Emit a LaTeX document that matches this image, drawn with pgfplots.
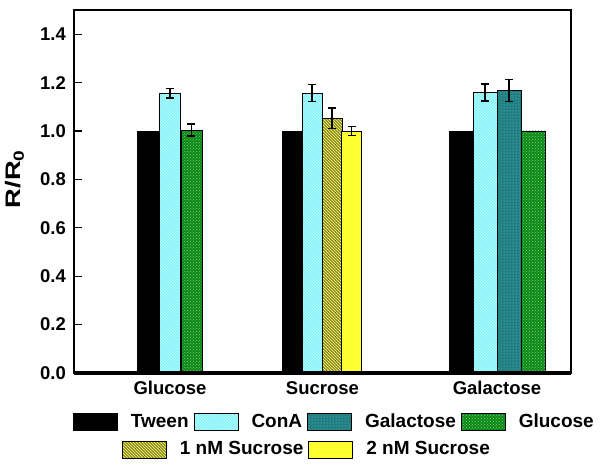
\documentclass[border=0pt]{standalone}
\usepackage{pgfplots}
\pgfplotsset{compat=1.18}
\usepackage{fontspec}
\setmainfont{Liberation Sans}
\newfontfamily\ylfont{Liberation Sans}[FakeStretch=1.3]
\usetikzlibrary{patterns}

\definecolor{conA}{HTML}{80F4FA}
\definecolor{galc}{HTML}{1E7F82}
\definecolor{gluc}{HTML}{0B8A14}
\definecolor{olv}{HTML}{8A8A2C}
\definecolor{yel}{HTML}{FFFF30}

\pgfplotsset{
  tweenst/.style={fill=black, draw=black, line width=0.9pt},
  conast/.style={fill=conA, draw=black, line width=0.9pt, postaction={pattern=north east lines, pattern color=conA!40!white}},
  galst/.style={fill=galc, draw=black, line width=0.9pt, postaction={pattern=dots, pattern color=galc!50!white}},
  glust/.style={fill=gluc, draw=black, line width=0.9pt, postaction={pattern=crosshatch dots, pattern color=gluc!50!white}},
  onest/.style={fill=olv, draw=black, line width=0.9pt, postaction={pattern=north west lines, pattern color=yellow!60!white}},
  twost/.style={fill=yel, draw=black, line width=0.9pt},
  errst/.style={error bars/y dir=both, error bars/y explicit,
     error bars/error mark=-,
     error bars/error bar style={line width=1.3pt, black},
     error bars/error mark options={rotate=90, line width=1.3pt, mark size=4pt, black}},
  myleg/.style={
    legend image code/.code={\draw[##1] (0pt,-9pt) rectangle (44pt,8pt);},
    legend style={draw=none, fill=none, inner sep=0pt, outer sep=0pt,
      font=\fontsize{19}{19}\selectfont\bfseries,
      /tikz/every odd column/.append style={column sep=11pt},
      /tikz/every even column/.append style={column sep=3pt}},
    legend cell align=left,
  },
}

\begin{document}
\begin{tikzpicture}
\useasboundingbox (-74pt,-98pt) rectangle (526pt,373pt);
\begin{axis}[
  width=497pt, height=363pt, scale only axis,
  xmin=0, xmax=497, ymin=0, ymax=1.5,
  axis line style={line width=1.8pt},
  ytick={0,0.2,0.4,0.6,0.8,1.0,1.2,1.4},
  ytick pos=left, tick align=inside, major tick length=8pt,
  ytick style={line width=1.3pt, black},
  xtick={96,248.5,423}, xticklabels={Glucose,Sucrose,Galactose},
  xtick style={draw=none},
  yticklabel style={/pgf/number format/.cd, fixed, fixed zerofill, precision=1, /tikz/.cd,
    font=\fontsize{18.5}{18.5}\selectfont\bfseries, inner sep=8pt},
  xticklabel style={font=\fontsize{18.5}{18.5}\selectfont\bfseries, yshift=-5pt},
  /pgf/number format/assume math mode=true,
  ylabel={R/R\textsubscript{0}},
  ylabel style={font=\ylfont\fontsize{21}{21}\selectfont\bfseries, at={(rel axis cs:-0.119,0.534)}, anchor=center},
  myleg,
  legend columns=4,
  legend style={at={(-0.002,-0.1336)}, anchor=west},
  after end axis/.code={\draw[line width=4pt, line cap=butt] (rel axis cs:0,0) -- (rel axis cs:1,0);},
]
% Glucose group
\addplot[ybar, bar width=21, bar shift=0pt, tweenst, forget plot] coordinates {(74,1.0)};
\addplot[ybar, bar width=21, bar shift=0pt, conast, errst, forget plot] coordinates {(96,1.156) +- (0,0.02)};
\addplot[ybar, bar width=21, bar shift=0pt, glust, errst, forget plot] coordinates {(117.5,1.004) +- (0,0.025)};
% Sucrose group
\addplot[ybar, bar width=20, bar shift=0pt, tweenst, forget plot] coordinates {(218,1.0)};
\addplot[ybar, bar width=20, bar shift=0pt, conast, errst, forget plot] coordinates {(238,1.156) +- (0,0.035)};
\addplot[ybar, bar width=20, bar shift=0pt, onest, errst, forget plot] coordinates {(258,1.052) +- (0,0.043)};
\addplot[ybar, bar width=20, bar shift=0pt, twost, errst, forget plot] coordinates {(277.5,1.0) +- (0,0.02)};
% Galactose group
\addplot[ybar, bar width=24, bar shift=0pt, tweenst, forget plot] coordinates {(387,1.0)};
\addplot[ybar, bar width=24, bar shift=0pt, conast, errst, forget plot] coordinates {(411,1.159) +- (0,0.035)};
\addplot[ybar, bar width=24, bar shift=0pt, galst, errst, forget plot] coordinates {(435,1.168) +- (0,0.045)};
\addplot[ybar, bar width=24, bar shift=0pt, glust, forget plot] coordinates {(459.5,1.0)};
\addlegendimage{tweenst}\addlegendentry{Tween}
\addlegendimage{conast}\addlegendentry{ConA}
\addlegendimage{galst}\addlegendentry{Galactose}
\addlegendimage{glust}\addlegendentry{Glucose}
\end{axis}
\begin{axis}[
  width=497pt, height=363pt, scale only axis, hide axis,
  xmin=0, xmax=497, ymin=0, ymax=1.5,
  myleg,
  legend columns=2,
  legend style={at={(0.0966,-0.2094)}, anchor=west},
]
\addlegendimage{onest}\addlegendentry{1 nM Sucrose}
\addlegendimage{twost}\addlegendentry{2 nM Sucrose}
\end{axis}
\end{tikzpicture}
\end{document}
